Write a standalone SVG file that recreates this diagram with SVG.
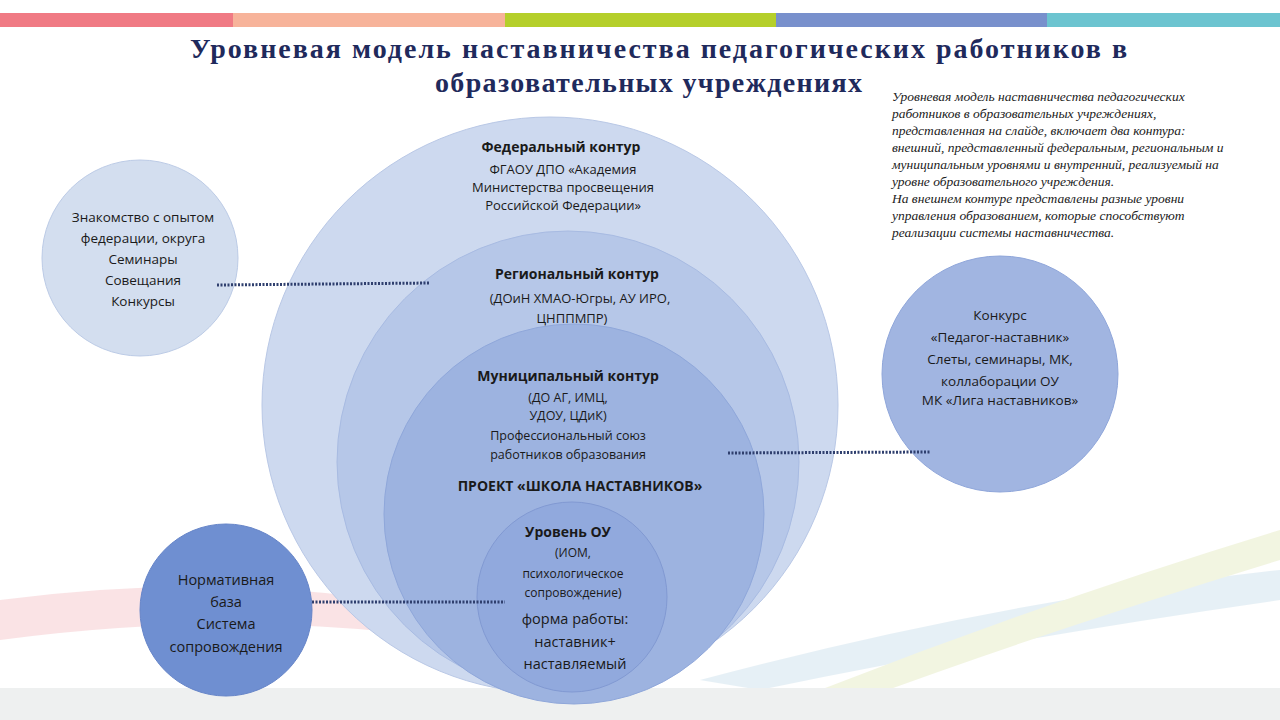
<svg xmlns="http://www.w3.org/2000/svg" width="1280" height="720" viewBox="0 0 1280 720">
<style>
.t{font-family:"Open Sans","Liberation Sans",sans-serif;fill:#1a1a1a;text-anchor:middle}
.b{font-weight:bold}
.n{font-family:"Liberation Serif",serif;font-style:italic;font-size:13.5px;fill:#222}
.dot{stroke:#2f3f6e;stroke-width:3;stroke-dasharray:2 1.5;fill:none}
</style>
<rect width="1280" height="720" fill="#fff"/>
<g opacity="0.5">
<path d="M0 600 Q300 560 560 640 L560 660 Q300 600 0 640Z" fill="#f6c8cc"/>
<path d="M700 680 Q1000 600 1280 570 L1280 600 Q1000 640 760 690Z" fill="#cfe3ee"/>
<path d="M820 690 Q1050 600 1280 530 L1280 560 Q1050 630 860 700Z" fill="#e7ecc4"/>
</g>
<rect x="0" y="688" width="1280" height="32" fill="#eef0f0"/>
<rect x="0" y="13" width="233" height="14" fill="#f07a84"/>
<rect x="233" y="13" width="272" height="14" fill="#f7b39a"/>
<rect x="505" y="13" width="271" height="14" fill="#b5cf2a"/>
<rect x="776" y="13" width="271" height="14" fill="#7890cc"/>
<rect x="1047" y="13" width="233" height="14" fill="#6cc4d0"/>
<g font-family="Liberation Serif,serif" font-weight="bold" font-size="28" fill="#1f2a5c">
<text x="190" y="58" textLength="937" lengthAdjust="spacing">Уровневая модель наставничества  педагогических работников в</text>
<text x="435" y="92" textLength="427" lengthAdjust="spacing">образовательных учреждениях</text>
</g>
<text class="n"><tspan x="892" y="101">Уровневая модель наставничества педагогических</tspan><tspan x="892" y="118">работников в образовательных учреждениях,</tspan><tspan x="892" y="135">представленная на слайде, включает два контура:</tspan><tspan x="892" y="152">внешний, представленный федеральным, региональным и</tspan><tspan x="892" y="169">муниципальным уровнями и внутренний, реализуемый на</tspan><tspan x="892" y="186">уровне образовательного учреждения.</tspan><tspan x="892" y="203">На внешнем контуре представлены разные уровни</tspan><tspan x="892" y="220">управления образованием, которые способствуют</tspan><tspan x="892" y="237">реализации системы наставничества.</tspan></text>
<g id="federal"><circle cx="550" cy="405" r="288" fill="#cdd9ef" stroke="#b9c8e6"/>
<text class="t b" x="561" y="152" font-size="14">Федеральный контур</text>
<text class="t" font-size="13"><tspan x="563" y="174">ФГАОУ ДПО «Академия</tspan><tspan x="563" y="192">Министерства просвещения</tspan><tspan x="563" y="210">Российской Федерации»</tspan></text></g>
<g id="regional"><circle cx="568" cy="462" r="231" fill="#b6c7e8" stroke="#a8bbe2"/>
<text class="t b" x="577" y="279" font-size="14">Региональный контур</text>
<text class="t" font-size="13"><tspan x="580" y="303">(ДОиН ХМАО-Югры, АУ ИРО,</tspan><tspan x="572" y="323">ЦНППМПР)</tspan></text></g>
<g id="municipal"><circle cx="574" cy="514" r="190" fill="#9db3e0" stroke="#8fa7da"/>
<text class="t b" x="568" y="381" font-size="14">Муниципальный контур</text>
<text class="t" font-size="12.5"><tspan x="568" y="402">(ДО АГ,  ИМЦ,</tspan><tspan x="568" y="420">УДОУ, ЦДиК)</tspan><tspan x="568" y="440">Профессиональный союз</tspan><tspan x="568" y="459">работников образования</tspan></text>
<text class="t b" x="580" y="491" font-size="14">ПРОЕКТ «ШКОЛА НАСТАВНИКОВ»</text></g>
<g id="ou"><circle cx="572" cy="597" r="95" fill="#91a9dd" stroke="#8199d2"/>
<text class="t b" x="568" y="537" font-size="14">Уровень ОУ</text>
<text class="t" font-size="12"><tspan x="573" y="557">(ИОМ,</tspan><tspan x="573" y="578">психологическое</tspan><tspan x="573" y="597">сопровождение)</tspan></text>
<text class="t" font-size="14.5"><tspan x="575" y="624">форма работы:</tspan><tspan x="575" y="647">наставник+</tspan><tspan x="575" y="669">наставляемый</tspan></text></g>
<g id="left-top"><circle cx="140" cy="258" r="98" fill="#d3deef" stroke="#bccbe6"/>
<text class="t" font-size="13.5"><tspan x="143" y="222">Знакомство с опытом</tspan><tspan x="143" y="243">федерации,  округа</tspan><tspan x="143" y="264">Семинары</tspan><tspan x="143" y="285">Совещания</tspan><tspan x="143" y="306">Конкурсы</tspan></text></g>
<g id="right"><circle cx="1000" cy="374" r="118" fill="#a1b5e1" stroke="#8fa6da"/>
<text class="t" font-size="13.5"><tspan x="1000" y="320">Конкурс</tspan><tspan x="1000" y="342">«Педагог-наставник»</tspan><tspan x="1000" y="364">Слеты, семинары,  МК,</tspan><tspan x="1000" y="386">коллаборации ОУ</tspan><tspan x="1000" y="405">МК «Лига наставников»</tspan></text></g>
<g id="left-bottom"><circle cx="226" cy="610" r="86" fill="#6f8fd1" stroke="#6584c8"/>
<text class="t" font-size="14.5"><tspan x="226" y="585">Нормативная</tspan><tspan x="226" y="607">база</tspan><tspan x="226" y="629">Система</tspan><tspan x="226" y="652">сопровождения</tspan></text></g>
<g id="connectors">
<line class="dot" x1="217" y1="285" x2="430" y2="283"/>
<line class="dot" x1="728" y1="453" x2="930" y2="452"/>
<line class="dot" x1="312" y1="602" x2="505" y2="602"/>
</g>
</svg>
